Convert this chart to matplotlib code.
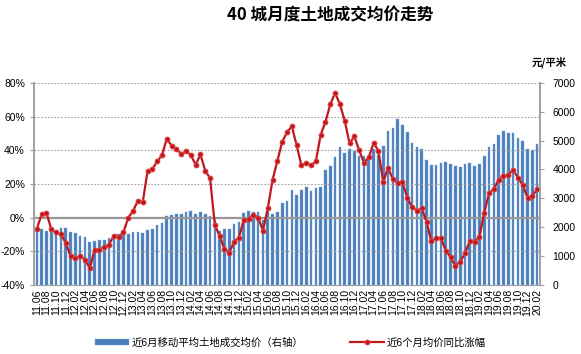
import matplotlib
matplotlib.use("Agg")
import matplotlib.pyplot as plt
import numpy as np
import pandas as pd

plt.rcParams['font.family'] = ['Liberation Sans', 'Noto Sans CJK SC']

months = [p.strftime('%y.%m') for p in pd.period_range('2011-06', '2020-02', freq='M')]

# 近6月移动平均土地成交均价（元/平米，右轴）
avg_price = [1920, 1921, 1886, 1851, 1790, 1978, 1967, 1828, 1793, 1701,
             1666, 1504, 1516, 1562, 1550, 1631, 1740, 1780, 1800, 1780,
             1830, 1851, 1816, 1909, 1932, 2094, 2140, 2395, 2430, 2464,
             2464, 2522, 2569, 2453, 2511, 2453, 2395, 2256, 1886, 1944,
             1921, 2117, 2175, 2488, 2545, 2511, 2511, 2256, 2569, 2453,
             2522, 2835, 2893, 3297, 3124, 3274, 3378, 3263, 3355, 3390,
             3992, 4107, 4431, 4778, 4570, 4709, 4651, 4454, 4477, 4397,
             4709, 4512, 4825, 5322, 5438, 5750, 5542, 5299, 4917, 4778,
             4709, 4327, 4154, 4154, 4235, 4269, 4177, 4107, 4084, 4177,
             4223, 4119, 4188, 4466, 4778, 4871, 5207, 5345, 5264, 5276,
             5079, 4998, 4720, 4674, 4894]

# 近6个月均价同比涨幅（%，左轴）
yoy = [-6.7, 2.0, 2.8, -7.0, -8.7, -10.0, -15.0, -23.0, -24.0, -23.0,
       -25.0, -30.0, -19.0, -19.0, -17.5, -16.0, -10.7, -11.5, -8.7, 0.0,
       4.0, 10.0, 9.0, 27.4, 28.8, 33.3, 37.0, 46.8, 42.7, 40.9,
       37.7, 39.3, 37.3, 31.3, 37.5, 27.8, 23.4, -4.4, -10.9, -18.7,
       -20.8, -14.3, -11.9, -1.4, -1.0, 1.6, 0.0, -7.7, 5.4, 22.4,
       33.7, 45.0, 50.6, 54.2, 42.9, 31.0, 32.5, 31.0, 33.5, 49.2,
       56.9, 67.3, 74.0, 67.3, 57.4, 44.1, 48.2, 39.9, 32.5, 35.9,
       44.2, 39.7, 21.0, 29.6, 22.8, 20.4, 21.0, 11.9, 6.0, 4.2,
       5.6, -2.4, -14.1, -12.1, -12.1, -19.7, -23.4, -28.8, -26.2, -21.2,
       -13.9, -14.3, -11.5, 3.0, 14.5, 17.0, 22.6, 24.8, 25.2, 28.4,
       23.6, 19.4, 11.7, 12.9, 16.9]

BAR_C = "#4a7ebb"
LINE_C = "#c0161c"
GRID_C = "#a0a0a0"

fig = plt.figure(figsize=(5.81, 3.54), dpi=100)
ax = fig.add_axes([0.0585, 0.195, 0.871, 0.571])
ax2 = ax.twinx()
ax.set_zorder(ax2.get_zorder() + 1)
ax.patch.set_visible(False)

x = np.arange(len(months))

# bars on right axis
bars = ax2.bar(x, avg_price, width=0.55, color=BAR_C, edgecolor="#7fa6d6", linewidth=0.3)
ax2.set_ylim(0, 7000)
ax2.set_yticks(range(0, 7001, 1000))
ax2.tick_params(axis='y', labelsize=7.5, length=3, color=GRID_C, pad=6)

# line on left axis
line, = ax.plot(x, yoy, color=LINE_C, lw=1.6, marker='o', markersize=3.6,
                markerfacecolor=LINE_C, markeredgecolor="#e05050", markeredgewidth=0.6)
ax.set_ylim(-40, 80)
ax.set_yticks(range(-40, 81, 20))
ax.set_yticklabels([f"{v}%" for v in range(-40, 81, 20)])
ax.tick_params(axis='y', labelsize=7.5, length=3, color=GRID_C)

for v in range(-20, 81, 20):
    if v != 0:
        ax.axhline(v, color=GRID_C, lw=0.8, ls=(0, (1.5, 1.5)), zorder=0)
ax.axhline(0, color="#999999", lw=1.6, zorder=1)

ax.set_xlim(-0.6, len(months) - 0.4)
ax.set_xticks(x[::2])
ax.set_xticklabels(months[::2], rotation=90, fontsize=7.5)
ax.tick_params(axis='x', length=0, pad=3)

for a in (ax, ax2):
    for s in ('top',):
        a.spines[s].set_visible(False)
    a.spines['left'].set_color(GRID_C)
    a.spines['right'].set_color(GRID_C)
    a.spines['bottom'].set_color(GRID_C)
    a.spines['left'].set_linewidth(1.2)
    a.spines['right'].set_linewidth(1.2)

fig.text(0.568, 0.955, "40 城月度土地成交均价走势", ha='center', va='center',
         fontsize=12, fontweight='bold', family=['Noto Sans CJK SC'])
fig.text(0.975, 0.825, "元/平米", ha='right', va='center',
         fontsize=7.5, fontweight='bold', family=['Noto Sans CJK SC'])

fig.legend([bars, line], ["近6月移动平均土地成交均价（右轴）", "近6个月均价同比涨幅"],
           loc='center', bbox_to_anchor=(0.5, 0.032), ncol=2, frameon=False,
           fontsize=7.5, handlelength=3.2, handleheight=0.6, columnspacing=4.5,
           handletextpad=0.3, borderaxespad=0)

fig.savefig("out.png", dpi=100)
